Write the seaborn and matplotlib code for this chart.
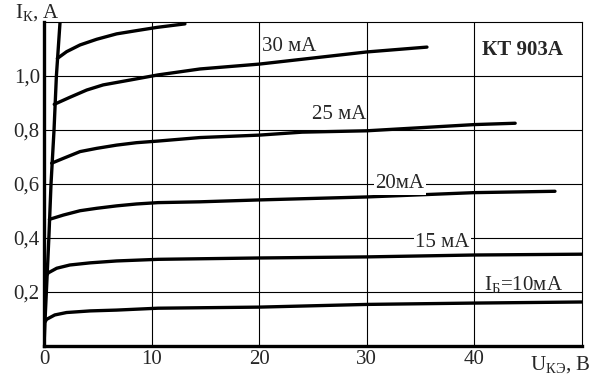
import pandas as pd
import seaborn as sns
import matplotlib.pyplot as plt

# output characteristics of KT903A
sat_u = [0, 0.1, 0.3, 0.46, 0.65, 0.93, 1.15, 1.49]
sat_i = [0, 0.1, 0.27, 0.41, 0.6, 0.8, 1.0, 1.2]

u_10 = [0.1, 0.25, 1.0, 2.1, 4.3, 6.75, 10.6, 20, 30, 40, 50]
i_10 = [0.09, 0.099, 0.115, 0.124, 0.13, 0.133, 0.14, 0.144, 0.154, 0.159, 0.163]
u_15 = [0.3, 0.4, 1.18, 2.4, 4.3, 6.75, 10.6, 20, 30, 40, 50]
i_15 = [0.265, 0.271, 0.288, 0.3, 0.308, 0.315, 0.321, 0.326, 0.33, 0.337, 0.34]
u_20 = [0.5, 1.8, 3.35, 4.9, 6.75, 8.6, 10.6, 14.5, 20, 30, 40, 47.5]
i_20 = [0.469, 0.485, 0.501, 0.51, 0.519, 0.526, 0.531, 0.534, 0.541, 0.552, 0.568, 0.573]
u_25 = [0.71, 1.8, 3.35, 4.9, 6.75, 8.6, 10.6, 14.5, 20, 24, 30, 40, 43.8]
i_25 = [0.677, 0.695, 0.72, 0.732, 0.744, 0.753, 0.759, 0.772, 0.781, 0.792, 0.797, 0.82, 0.825]
u_30 = [0.95, 2.4, 3.97, 5.5, 8, 10.6, 14.5, 20, 30, 35.6]
i_30 = [0.895, 0.921, 0.948, 0.967, 0.985, 1.004, 1.026, 1.044, 1.089, 1.107]
u_35 = [1.24, 2.1, 3.35, 4.9, 6.75, 8.6, 10.5, 13.1]
i_35 = [1.065, 1.09, 1.115, 1.136, 1.156, 1.168, 1.18, 1.193]

x_ticks = [0, 10, 20, 30, 40]
y_ticks = [0.2, 0.4, 0.6, 0.8, 1.0]
y_labels = ['0,2', '0,4', '0,6', '0,8', '1,0']

curves = {'sat': (sat_u, sat_i), '10': (u_10, i_10), '15': (u_15, i_15),
          '20': (u_20, i_20), '25': (u_25, i_25), '30': (u_30, i_30),
          '35': (u_35, i_35)}
df = pd.concat([pd.DataFrame({'curve': k, 'U': v[0], 'I': v[1]})
                for k, v in curves.items()], ignore_index=True)

sns.set_style('white')
plt.rcParams['font.family'] = ['Liberation Serif', 'DejaVu Serif']
plt.rcParams['mathtext.fontset'] = 'custom'
plt.rcParams['mathtext.rm'] = 'Liberation Serif'

fig, ax = plt.subplots(figsize=(6.08, 3.83), dpi=100)
fig.subplots_adjust(left=0.0724, right=0.957, bottom=0.0966, top=0.9426)

sns.lineplot(data=df, x='U', y='I', units='curve', estimator=None, sort=False,
             color='black', linewidth=2.4, ax=ax, legend=False)
for ln in ax.lines:
    ln.set_solid_joinstyle('round')

ax.set_xlim(0, 50)
ax.set_ylim(0, 1.2)
ax.set_xticks(x_ticks)
ax.set_yticks(y_ticks)
ax.set_yticklabels(y_labels)
ax.tick_params(length=0, labelsize=15, pad=3)
ax.grid(True, color='black', linewidth=0.8)
ax.set_axisbelow(True)
ax.set_xlabel('')
ax.set_ylabel('')
for s in ['top', 'right']:
    ax.spines[s].set_linewidth(0.8)
    ax.spines[s].set_color('black')
for s in ['left', 'bottom']:
    ax.spines[s].set_linewidth(2.4)
    ax.spines[s].set_color('black')

fs = 15
ax.text(20.3, 1.111, '30 мА', fontsize=fs, va='center')
ax.text(24.9, 0.856, '25 мА', fontsize=fs, va='center')
ax.text(30.8, 0.6, '20мА', fontsize=fs, va='center',
        bbox=dict(facecolor='white', edgecolor='none', pad=1))
ax.text(34.5, 0.385, '15 мА', fontsize=fs, va='center',
        bbox=dict(facecolor='white', edgecolor='none', pad=1))
ax.text(40.9, 0.207, r'I$_\mathrm{Б}$=10мА', fontsize=fs, va='baseline')
ax.text(40.7, 1.096, 'КТ 903А', fontsize=fs, va='center', fontweight='bold')

ax.text(-2.7, 1.215, r'I$_\mathrm{К}$, А', fontsize=fs, va='baseline', clip_on=False)
ax.text(45.2, -0.089, r'U$_\mathrm{КЭ}$, В', fontsize=fs, va='baseline', clip_on=False)

fig.savefig('out.png', dpi=100)
